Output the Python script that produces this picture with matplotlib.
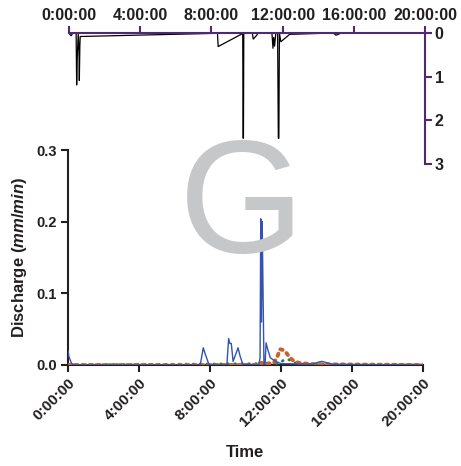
import matplotlib
matplotlib.use("Agg")
import matplotlib.pyplot as plt
from matplotlib.transforms import ScaledTranslation

plt.rcParams['font.family'] = ['Liberation Sans', 'DejaVu Sans']
plt.rcParams['font.weight'] = 'bold'
plt.rcParams['mathtext.fontset'] = 'custom'
plt.rcParams['mathtext.it'] = 'Liberation Sans:italic:bold'
plt.rcParams['mathtext.rm'] = 'Liberation Sans:bold'

# Time axis (hours) and labels
tick_hours = [0, 4, 8, 12, 16, 20]
tick_labels = ["0:00:00", "4:00:00", "8:00:00", "12:00:00", "16:00:00", "20:00:00"]

# Rainfall (mm), plotted hanging from the top axis
rain_t = [0.0, 0.08, 0.14, 0.20, 0.40, 0.43, 0.46, 0.52, 0.56, 0.58, 0.61, 0.63,
          8.0, 8.34, 8.38, 9.72, 9.76, 9.78, 9.80, 9.82, 10.30, 10.35, 10.55, 10.60,
          11.40, 11.46, 11.50, 11.55, 11.62, 11.72, 11.76, 11.79, 11.82, 11.90, 12.40,
          14.85, 15.00, 15.30, 20.0]
rain_v = [0.0, 0.05, 0.06, 0.0, 0.0, 1.19, 0.6, 0.0, 0.4, 1.09, 0.3, 0.08,
          0.01, 0.0, 0.31, 0.02, 0.0, 2.41, 2.41, 0.0, 0.0, 0.14, 0.05, 0.0,
          0.0, 0.35, 0.1, 0.3, 0.0, 0.0, 2.41, 2.41, 0.0, 0.2, 0.03,
          0.0, 0.05, 0.0, 0.0]

# Discharge series (mm/min)
blue_t = [0.0, 0.05, 0.2, 0.4, 7.45, 7.62, 7.75, 7.95, 8.95, 9.05, 9.12, 9.2, 9.3,
          9.45, 9.58, 9.7, 9.85, 10.75, 10.82, 10.86, 10.9, 10.94, 10.98, 11.04,
          11.1, 11.16, 11.25, 11.4, 11.7, 12.0, 13.8, 14.1, 14.3, 14.6, 14.9, 20.0]
blue_q = [0.02, 0.012, 0.002, 0.0, 0.0, 0.024, 0.014, 0.0, 0.0, 0.037, 0.03, 0.03,
          0.005, 0.015, 0.024, 0.012, 0.001, 0.0, 0.01, 0.204, 0.06, 0.2, 0.12,
          0.0, 0.0, 0.031, 0.022, 0.01, 0.005, 0.002, 0.001, 0.004, 0.005, 0.003,
          0.001, 0.0]

orange_t = [0.0, 10.6, 10.9, 11.2, 11.6, 11.8, 11.95, 12.1, 12.3, 12.5, 12.7, 13.0,
            13.4, 14.0, 20.0]
orange_q = [0.0, 0.0, 0.003, 0.002, 0.003, 0.012, 0.022, 0.021, 0.017, 0.01, 0.006,
            0.003, 0.002, 0.001, 0.0]

green_t = [0.0, 11.9, 12.1, 12.3, 12.5, 12.8, 13.2, 20.0]
green_q = [0.0, 0.002, 0.006, 0.008, 0.007, 0.003, 0.001, 0.0]

base_t = [0.0, 20.0]
base_q = [0.0, 0.0]

W, H = 461, 466
fig = plt.figure(figsize=(W / 100, H / 100), dpi=100)
ink = '#231f20'
purple = '#4f2a6e'

# Panel letter (behind everything)
fig.text(242 / W, 1 - 210 / H, 'G', fontsize=116, color='#c6c7c9',
         fontweight='normal', ha='center', va='center', zorder=0)

# --- Discharge panel ---
ax = fig.add_axes([68 / W, 1 - 365 / H, 355 / W, 215 / H])
ax.plot(base_t, base_q, color='#7a6f92', lw=1.5, ls=(0, (3, 3)), zorder=2)
ax.plot(green_t, green_q, color='#1d7a4c', lw=2.0, ls=(0, (0.3, 2.2)),
        dash_capstyle='round', zorder=3)
ax.plot(orange_t, orange_q, color='#c8622b', lw=2.8, ls=(0, (0.6, 1.3)),
        dash_capstyle='round', zorder=4)
ax.plot(blue_t, blue_q, color='#3352b3', lw=1.0, zorder=5)

ax.set_xlim(0, 20)
ax.set_ylim(0, 0.3)
ax.set_xticks(tick_hours)
ax.set_xticklabels(tick_labels, rotation=45, ha='right', va='top',
                   rotation_mode='anchor', fontsize=11)
shift = ScaledTranslation(5 / 100, -8 / 100, fig.dpi_scale_trans)
for lab in ax.get_xticklabels():
    lab.set_transform(lab.get_transform() + shift)
ax.set_yticks([0.0, 0.1, 0.2, 0.3])
ax.set_yticklabels(['0.0', '0.1', '0.2', '0.3'], fontsize=10.5)
ax.tick_params(axis='both', direction='out', length=5, width=1.5, color=ink,
               labelcolor=ink, pad=3)
for s in ['top', 'right']:
    ax.spines[s].set_visible(False)
for s in ['left', 'bottom']:
    ax.spines[s].set_color(ink)
    ax.spines[s].set_linewidth(1.5)
ax.set_ylabel(r'Discharge ($\it{mm/min}$)', fontsize=12, fontweight='bold',
              color=ink, labelpad=5)
ax.set_xlabel('Time', fontsize=12, fontweight='bold', color=ink, labelpad=11)
ax.patch.set_alpha(0)

# --- Rainfall panel (inverted, top/right axes) ---
ar = fig.add_axes([69 / W, 1 - 164 / H, 356 / W, 131 / H])
ar.plot(rain_t, rain_v, color='black', lw=0.9)
ar.set_xlim(0, 20)
ar.set_ylim(3, 0)
ar.xaxis.tick_top()
ar.yaxis.tick_right()
ar.set_xticks(tick_hours)
ar.set_xticklabels(tick_labels, fontsize=11.5)
ar.set_yticks([0, 1, 2, 3])
ar.set_yticklabels(['0', '1', '2', '3'], fontsize=11.5)
ar.tick_params(axis='both', direction='out', length=5, width=1.5, color=purple,
               labelcolor=ink, pad=2)
for s in ['left', 'bottom']:
    ar.spines[s].set_visible(False)
for s in ['top', 'right']:
    ar.spines[s].set_color(purple)
    ar.spines[s].set_linewidth(1.5)
ar.patch.set_alpha(0)

fig.savefig('out.png', dpi=100)
